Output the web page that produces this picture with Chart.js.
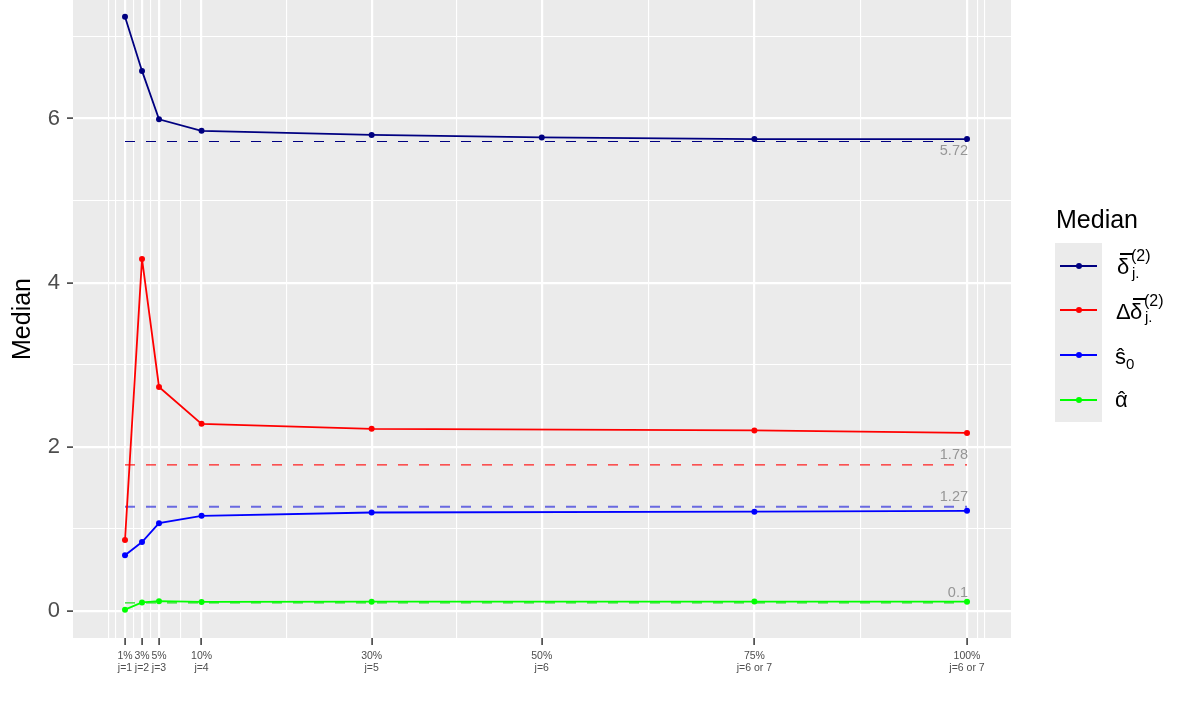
<!DOCTYPE html>
<html><head><meta charset="utf-8">
<script src="https://cdn.jsdelivr.net/npm/chart.js@4.4.0/dist/chart.umd.min.js"></script>
<style>
html,body{margin:0;padding:0;background:#fff;}
#wrap{position:relative;width:1196px;height:718px;font-family:"Liberation Sans",Arial,sans-serif;overflow:hidden;}
canvas{position:absolute;left:0;top:0;}
.t{position:absolute;white-space:nowrap;color:#000;}
.b{position:absolute;}
</style></head><body>
<div id="wrap"><canvas id="c" width="1196" height="718"></canvas><div id="legend"></div></div>
<script>
// ---- data ----
const pct = [1, 3, 5, 10, 30, 50, 75, 100];
const pctLabels = ['1%', '3%', '5%', '10%', '30%', '50%', '75%', '100%'];
const jLabels = ['j=1', 'j=2', 'j=3', 'j=4', 'j=5', 'j=6', 'j=6 or 7', 'j=6 or 7'];
const deltaBar  = [7.24, 6.58, 5.99, 5.85, 5.80, 5.77, 5.75, 5.75];
const deltaDiff = [0.865, 4.29, 2.73, 2.28, 2.22, null, 2.20, 2.17];
const s0Hat     = [0.68, 0.84, 1.07, 1.16, 1.20, null, 1.21, 1.22];
const alphaHat  = [0.016, 0.105, 0.12, 0.11, 0.113, null, 0.115, 0.113];
const refValues = [5.72, 1.78, 1.27, 0.1];
const refLabels = ['5.72', '1.78', '1.27', '0.1'];
const xMinor = [-0.95, -0.1, 2, 4, 7.5, 20, 40, 62.5, 87.5, 101.2, 102.1];
const yMajor = [0, 2, 4, 6];
const yMinor = [1, 3, 5, 7];
const yTickLabels = ['0', '2', '4', '6'];
const seriesColors = ['#000080', '#FF0000', '#0000FF', '#00FF00'];

const FONT = '"Liberation Sans", Arial, sans-serif';
const series = [deltaBar, deltaDiff, s0Hat, alphaHat];
const datasets = [];
series.forEach((vals, k) => {
  datasets.push({
    data: pct.map((x, i) => ({x: x, y: vals[i]})),
    borderColor: seriesColors[k], backgroundColor: seriesColors[k],
    pointBackgroundColor: seriesColors[k], pointBorderWidth: 0,
    borderWidth: 1.8, pointRadius: 3, spanGaps: true, tension: 0, order: 1
  });
});
const refStyles = [
  {c: '#000080', w: 1.1}, {c: '#FF2020', w: 1.1},
  {c: 'rgba(50,50,220,0.7)', w: 2}, {c: '#20E020', w: 1.2}
];
refValues.forEach((v, k) => {
  datasets.push({
    data: [{x: pct[0], y: v}, {x: pct[pct.length - 1], y: v}],
    borderColor: refStyles[k].c, borderWidth: refStyles[k].w,
    borderDash: [10, 11], pointRadius: 0, order: 2
  });
});

const panelBg = {
  id: 'panelBg',
  beforeDraw(chart) {
    const a = chart.chartArea, ctx = chart.ctx;
    ctx.save(); ctx.fillStyle = '#EBEBEB';
    ctx.fillRect(a.left, a.top, a.right - a.left, a.bottom - a.top);
    ctx.restore();
  }
};
const refText = {
  id: 'refText',
  afterDatasetsDraw(chart) {
    const ctx = chart.ctx, xs = chart.scales.x, ys = chart.scales.y;
    ctx.save();
    ctx.font = '14.5px ' + FONT; ctx.fillStyle = '#969696';
    ctx.textAlign = 'right'; ctx.textBaseline = 'middle';
    refValues.forEach((v, k) => {
      const x = xs.getPixelForValue(pct[pct.length - 1]) + 1;
      const y = ys.getPixelForValue(v) + (k === 0 ? 9 : -10);
      ctx.fillText(refLabels[k], x, y);
    });
    ctx.restore();
  }
};
const isMajorX = c => c.tick && pct.includes(c.tick.value);
const isMajorY = c => c.tick && yMajor.includes(c.tick.value);

new Chart(document.getElementById('c'), {
  type: 'line',
  data: {datasets: datasets},
  plugins: [panelBg, refText],
  options: {
    responsive: false, animation: false, events: [],
    layout: {autoPadding: false, padding: {left: 0, top: 0, right: 185, bottom: 0}},
    plugins: {legend: {display: false}, tooltip: {enabled: false}},
    scales: {
      x: {
        type: 'linear', min: -5.114, max: 105.17,
        afterBuildTicks: s => { s.ticks = pct.concat(xMinor).sort((a, b) => a - b).map(v => ({value: v})); },
        afterFit: s => { s.height = 80; s.paddingLeft = 0; s.paddingRight = 0; },
        ticks: {
          autoSkip: false, maxRotation: 0, minRotation: 0, color: '#4D4D4D',
          font: {family: FONT, size: 10.5, lineHeight: 1.15}, padding: 5,
          callback: v => { const i = pct.indexOf(v); return i < 0 ? '' : [pctLabels[i], jLabels[i]]; }
        },
        grid: {
          color: '#FFFFFF', lineWidth: c => isMajorX(c) ? 2.2 : 1.1,
          tickLength: 7, tickWidth: 1.5,
          tickColor: c => isMajorX(c) ? '#333333' : 'rgba(0,0,0,0)'
        },
        border: {display: false}
      },
      y: {
        type: 'linear', min: -0.329, max: 7.444,
        afterBuildTicks: s => { s.ticks = yMajor.concat(yMinor).sort((a, b) => a - b).map(v => ({value: v})); },
        afterFit: s => { s.width = 73; s.paddingTop = 0; s.paddingBottom = 0; },
        ticks: {
          color: '#4D4D4D', font: {family: FONT, size: 22}, padding: 7,
          callback: v => { const i = yMajor.indexOf(v); return i < 0 ? '' : yTickLabels[i]; }
        },
        grid: {
          color: '#FFFFFF', lineWidth: c => isMajorY(c) ? 2.2 : 1.1,
          tickLength: 6, tickWidth: 1.5,
          tickColor: c => isMajorY(c) ? '#333333' : 'rgba(0,0,0,0)'
        },
        border: {display: false},
        title: {display: true, text: 'Median', color: '#000', font: {family: FONT, size: 25}, padding: {top: 8, bottom: 0}}
      }
    }
  }
});

// ---- legend (HTML) ----
const legend = document.getElementById('legend');
function txt(s, left, baseline, size) {
  const d = document.createElement('div'); d.className = 't'; d.textContent = s;
  d.style.left = left + 'px'; d.style.top = (baseline - 0.8465 * size) + 'px';
  d.style.fontSize = size + 'px'; d.style.lineHeight = size + 'px';
  legend.appendChild(d); return d;
}
function box(left, top, w, h, color, round) {
  const d = document.createElement('div'); d.className = 'b';
  d.style.left = left + 'px'; d.style.top = top + 'px';
  d.style.width = w + 'px'; d.style.height = h + 'px'; d.style.background = color;
  if (round) d.style.borderRadius = '50%';
  legend.appendChild(d); return d;
}
txt('Median', 1056, 228, 25);
box(1055, 243, 47, 179, '#EBEBEB');
const rowY = [265.7, 310, 355, 400];
rowY.forEach((c, k) => {
  box(1060, c - 1, 37, 2, seriesColors[k]);
  box(1076, c - 3, 6, 6, seriesColors[k], true);
});
// row 1
txt('δ', 1117, 275, 22); box(1119.5, 253, 13, 1.5, '#000');
txt('(2)', 1131, 262, 16); txt('j.', 1132, 278, 15);
// row 2
txt('Δ', 1116, 319.5, 22); txt('δ', 1130, 319.5, 22); box(1133, 298, 13, 1.5, '#000');
txt('(2)', 1144, 307, 16); txt('j.', 1145, 322, 15);
// row 3
txt('ŝ', 1115, 365, 22); txt('0', 1126, 369, 15);
// row 4
txt('α', 1115, 408, 22); txt('ˆ', 1118, 408, 22);
</script>
</body></html>
